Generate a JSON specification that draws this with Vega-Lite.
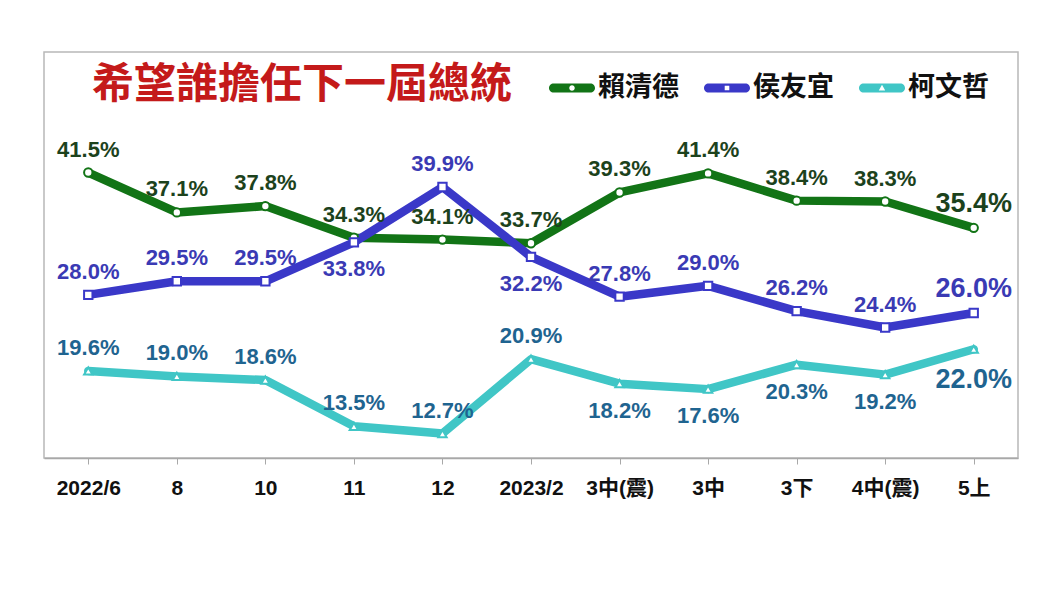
{
  "$schema": "https://vega.github.io/schema/vega-lite/v6.json",
  "width": 974,
  "height": 406,
  "autosize": "none",
  "padding": {"left": 44, "top": 52, "right": 42, "bottom": 138},
  "background": "white",
  "config": {"view": {"stroke": "#b8b8b8", "strokeWidth": 1.5}},
  "title": {
    "text": "希望誰擔任下一屆總統",
    "anchor": "start",
    "frame": "group",
    "offset": -55,
    "dx": 48,
    "font": "Noto Sans CJK TC",
    "fontSize": 42,
    "fontWeight": "bold",
    "color": "#c41a1a"
  },
  "data": {
    "values": [
      {"t": "2022/6", "name": "賴清德", "v": 41.5},
      {"t": "8", "name": "賴清德", "v": 37.1},
      {"t": "10", "name": "賴清德", "v": 37.8},
      {"t": "11", "name": "賴清德", "v": 34.3},
      {"t": "12", "name": "賴清德", "v": 34.1},
      {"t": "2023/2", "name": "賴清德", "v": 33.7},
      {"t": "3中(震)", "name": "賴清德", "v": 39.3},
      {"t": "3中", "name": "賴清德", "v": 41.4},
      {"t": "3下", "name": "賴清德", "v": 38.4},
      {"t": "4中(震)", "name": "賴清德", "v": 38.3},
      {"t": "5上", "name": "賴清德", "v": 35.4},
      {"t": "2022/6", "name": "侯友宜", "v": 28.0},
      {"t": "8", "name": "侯友宜", "v": 29.5},
      {"t": "10", "name": "侯友宜", "v": 29.5},
      {"t": "11", "name": "侯友宜", "v": 33.8},
      {"t": "12", "name": "侯友宜", "v": 39.9},
      {"t": "2023/2", "name": "侯友宜", "v": 32.2},
      {"t": "3中(震)", "name": "侯友宜", "v": 27.8},
      {"t": "3中", "name": "侯友宜", "v": 29.0},
      {"t": "3下", "name": "侯友宜", "v": 26.2},
      {"t": "4中(震)", "name": "侯友宜", "v": 24.4},
      {"t": "5上", "name": "侯友宜", "v": 26.0},
      {"t": "2022/6", "name": "柯文哲", "v": 19.6},
      {"t": "8", "name": "柯文哲", "v": 19.0},
      {"t": "10", "name": "柯文哲", "v": 18.6},
      {"t": "11", "name": "柯文哲", "v": 13.5},
      {"t": "12", "name": "柯文哲", "v": 12.7},
      {"t": "2023/2", "name": "柯文哲", "v": 20.9},
      {"t": "3中(震)", "name": "柯文哲", "v": 18.2},
      {"t": "3中", "name": "柯文哲", "v": 17.6},
      {"t": "3下", "name": "柯文哲", "v": 20.3},
      {"t": "4中(震)", "name": "柯文哲", "v": 19.2},
      {"t": "5上", "name": "柯文哲", "v": 22.0}
    ]
  },
  "encoding": {
    "x": {
      "field": "t",
      "type": "ordinal",
      "sort": ["2022/6", "8", "10", "11", "12", "2023/2", "3中(震)", "3中", "3下", "4中(震)", "5上"],
      "scale": {"type": "point", "padding": 0.5},
      "axis": {
        "title": null,
        "labelAngle": 0,
        "labelFont": "Liberation Sans Narrow, Arial Narrow, Liberation Sans, Noto Sans CJK TC",
        "labelFontSize": 21,
        "labelFontWeight": "bold",
        "labelColor": "#111111",
        "labelPadding": 13,
        "domainColor": "#a8a8a8",
        "domainWidth": 1.5,
        "tickColor": "#a8a8a8",
        "tickSize": 6,
        "grid": false
      }
    },
    "y": {
      "field": "v",
      "type": "quantitative",
      "scale": {"domain": [10, 54.8], "nice": false, "zero": false},
      "axis": null
    }
  },
  "layer": [
    {
      "mark": {"type": "line", "strokeWidth": 8.5, "strokeCap": "round", "strokeJoin": "round"},
      "encoding": {
        "color": {
          "field": "name",
          "type": "nominal",
          "scale": {"domain": ["賴清德", "侯友宜", "柯文哲"], "range": ["#127416", "#3a38c8", "#40c6c6"]},
          "legend": {
            "title": null,
            "orient": "none",
            "direction": "horizontal",
            "legendX": 505,
            "legendY": 13,
            "symbolType": "circle",
            "symbolSize": 2116,
            "symbolStrokeWidth": 0,
            "labelFont": "Noto Sans CJK TC",
            "labelFontSize": 27,
            "labelFontWeight": "bold",
            "labelColor": "#111111",
            "labelOffset": 3,
            "columnPadding": 24,
            "encode": {
              "symbols": {
                "update": {
                  "shape": {"signal": "datum.value === '賴清德' ? 'M-0.8,-0.2L0.8,-0.2A0.2,0.2 0 0 1 0.8,0.2L-0.8,0.2A0.2,0.2 0 0 1 -0.8,-0.2ZM0.12,0A0.12,0.12 0 1 0 -0.12,0A0.12,0.12 0 1 0 0.12,0Z' : datum.value === '侯友宜' ? 'M-0.8,-0.2L0.8,-0.2A0.2,0.2 0 0 1 0.8,0.2L-0.8,0.2A0.2,0.2 0 0 1 -0.8,-0.2ZM-0.1,-0.1L-0.1,0.1L0.1,0.1L0.1,-0.1Z' : 'M-0.8,-0.2L0.8,-0.2A0.2,0.2 0 0 1 0.8,0.2L-0.8,0.2A0.2,0.2 0 0 1 -0.8,-0.2ZM0,-0.14L-0.14,0.11L0.14,0.11Z'"},
                  "fill": {"scale": "color", "field": "value"},
                  "stroke": {"value": "transparent"},
                  "opacity": {"value": 1}
                }
              }
            }
          }
        }
      }
    },
    {
      "mark": {"type": "point", "filled": true, "fill": "white", "strokeWidth": 2, "opacity": 1, "size": 70},
      "encoding": {
        "shape": {
          "condition": [
            {"test": "datum.name === '賴清德'", "value": "circle"},
            {"test": "datum.name === '侯友宜'", "value": "square"}
          ],
          "value": "triangle-up"
        },
        "stroke": {
          "condition": [
            {"test": "datum.name === '賴清德'", "value": "#127416"},
            {"test": "datum.name === '侯友宜'", "value": "#3a38c8"}
          ],
          "value": "#40c6c6"
        }
      }
    },
    {
      "transform": [
        {"filter": "datum.t !== '5上' && !((datum.name === '侯友宜' && (datum.t === '11' || datum.t === '2023/2')) || (datum.name === '柯文哲' && indexof(['3中(震)', '3中', '3下', '4中(震)'], datum.t) >= 0))"},
        {"calculate": "format(datum.v, '.1f') + '%'", "as": "lbl"}
      ],
      "mark": {"type": "text", "font": "Liberation Sans Narrow, Arial Narrow, Liberation Sans", "fontSize": 22, "fontWeight": "bold", "dy": -23},
      "encoding": {
        "text": {"field": "lbl"},
        "color": {
          "condition": [
            {"test": "datum.name === '賴清德'", "value": "#1c421c"},
            {"test": "datum.name === '侯友宜'", "value": "#3a3ab4"}
          ],
          "value": "#1f6490"
        }
      }
    },
    {
      "transform": [
        {"filter": "datum.t !== '5上' && ((datum.name === '侯友宜' && (datum.t === '11' || datum.t === '2023/2')) || (datum.name === '柯文哲' && indexof(['3中(震)', '3中', '3下', '4中(震)'], datum.t) >= 0))"},
        {"calculate": "format(datum.v, '.1f') + '%'", "as": "lbl"}
      ],
      "mark": {"type": "text", "font": "Liberation Sans Narrow, Arial Narrow, Liberation Sans", "fontSize": 22, "fontWeight": "bold", "dy": 27},
      "encoding": {
        "text": {"field": "lbl"},
        "color": {
          "condition": [
            {"test": "datum.name === '賴清德'", "value": "#1c421c"},
            {"test": "datum.name === '侯友宜'", "value": "#3a3ab4"}
          ],
          "value": "#1f6490"
        }
      }
    },
    {
      "transform": [
        {"filter": "datum.t === '5上' && datum.name !== '柯文哲'"},
        {"calculate": "format(datum.v, '.1f') + '%'", "as": "lbl"}
      ],
      "mark": {"type": "text", "font": "Liberation Sans Narrow, Arial Narrow, Liberation Sans", "fontSize": 27, "fontWeight": "bold", "dy": -24},
      "encoding": {
        "text": {"field": "lbl"},
        "color": {
          "condition": [{"test": "datum.name === '賴清德'", "value": "#1c421c"}],
          "value": "#3a3ab4"
        }
      }
    },
    {
      "transform": [
        {"filter": "datum.t === '5上' && datum.name === '柯文哲'"},
        {"calculate": "format(datum.v, '.1f') + '%'", "as": "lbl"}
      ],
      "mark": {"type": "text", "font": "Liberation Sans Narrow, Arial Narrow, Liberation Sans", "fontSize": 27, "fontWeight": "bold", "dy": 31, "color": "#1f6490"},
      "encoding": {
        "text": {"field": "lbl"}
      }
    }
  ]
}
